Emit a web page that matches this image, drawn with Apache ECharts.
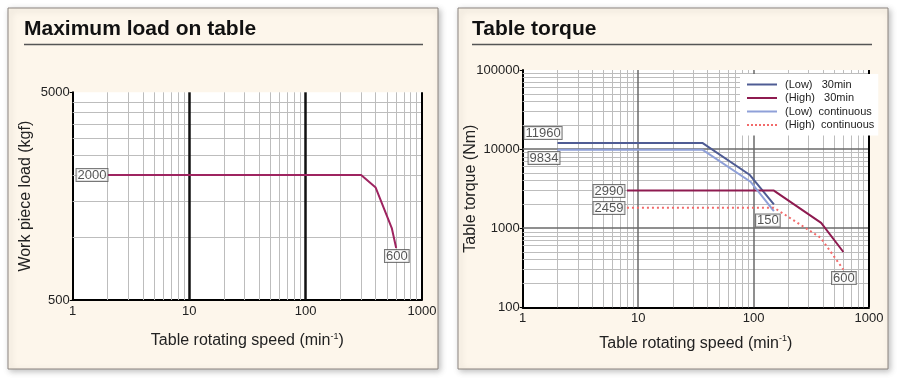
<!DOCTYPE html>
<html>
<head>
<meta charset="utf-8">
<script src="https://cdn.jsdelivr.net/npm/echarts@6/dist/echarts.min.js"></script>
<style>
html,body{margin:0;padding:0;background:#fff;}
#c{width:900px;height:380px;}
</style>
</head>
<body>
<div id="c"></div>
<script>
// ---------- data ----------
var loadSpeed = [2, 300, 400, 550, 600];
var loadValue = [2000, 2000, 1740, 1110, 890];

var low30Speed = [2, 36, 93, 150];
var low30Torque = [11960, 11960, 4700, 2000];
var high30Speed = [8, 150, 385, 600];
var high30Torque = [2990, 2990, 1170, 500];
var lowContSpeed = [2, 36, 94, 150];
var lowContTorque = [9834, 9834, 3870, 1640];
var highContSpeed = [8, 150, 380, 600];
var highContTorque = [1820, 1820, 760, 300];

var seriesNames = ['(Low)   30min', '(High)   30min', '(Low)  continuous', '(High)  continuous'];

var speedTicks = [1, 10, 100, 1000];
var loadTicks = [500, 5000];
var torqueTicks = [100, 1000, 10000, 100000];

var speedMinorGrid = [2, 3, 4, 5, 6, 7, 8, 9, 20, 30, 40, 50, 60, 70, 80, 90, 200, 300, 400, 500, 600, 700, 800, 900];
var speedMajorGrid = [10, 100];
var speedEdge = [1000];
var loadGrid = [1000, 1500, 2000, 2500, 3000, 3500, 4000, 4500];
var torqueMinorGrid = [200, 300, 400, 500, 600, 700, 800, 900, 2000, 3000, 4000, 5000, 6000, 7000, 8000, 9000, 20000, 30000, 40000, 50000, 60000, 70000, 80000, 90000];
var torqueMajorGrid = [1000, 10000];

// annotation boxes: [speed, value, text]
var loadNotes = [[1.465, 2000, '2000'], [608, 814, '600']];
var torqueNotes = [[1.5, 15990, '11960'], [1.53, 7727, '9834'], [5.59, 2953, '2990'], [5.59, 1800, '2459'], [133, 1251, '150'], [606, 234, '600']];

// ---------- helpers ----------
var FONT = '"Liberation Sans", Arial, Helvetica, sans-serif';
var NARROW = '"Liberation Sans Narrow", "Arial Narrow", "Liberation Sans", sans-serif';
function zip(a, b) { return a.map(function (v, i) { return [v, b[i]]; }); }
function vLines(vals) { return vals.map(function (v) { return { xAxis: v }; }); }
function hLines(vals) { return vals.map(function (v) { return { yAxis: v }; }); }
function plain(v) { return String(v); }
function gridSeries(xi, data, color, width, z) {
  return {
    type: 'line', xAxisIndex: xi, yAxisIndex: xi, data: [], silent: true, z: z,
    markLine: {
      z: z, silent: true, symbol: ['none', 'none'], animation: false,
      label: { show: false },
      lineStyle: { color: color, width: width, type: 'solid' },
      emphasis: { disabled: true },
      data: data
    }
  };
}
function noteSeries(xi, notes) {
  return {
    type: 'scatter', xAxisIndex: xi, yAxisIndex: xi, data: notes, symbolSize: 1, z: 10,
    itemStyle: { color: 'rgba(0,0,0,0)' }, silent: true,
    label: {
      show: true, position: 'inside',
      formatter: function (p) { return p.data[2]; },
      fontFamily: FONT, fontSize: 13, color: '#2a2a2a', lineHeight: 12,
      backgroundColor: '#fff', borderColor: '#555', borderWidth: 1, padding: [0, 1, 0, 1]
    }
  };
}
var axisLabelStyle = { fontFamily: FONT, fontSize: 13, color: '#222', formatter: plain };
var nameStyle = {
  fontFamily: FONT, fontSize: 16, color: '#222',
  rich: { sup: { fontFamily: FONT, fontSize: 9, color: '#222', padding: [0, 0, 9, 0] } }
};
var xName = 'Table rotating speed (min{sup|-1})';
var solidIcon = 'path://M0,0h30v2h-30z';
var dotIcon = 'path://M0,0h2v2h-2zM4,0h2v2h-2zM8,0h2v2h-2zM12,0h2v2h-2zM16,0h2v2h-2zM20,0h2v2h-2zM24,0h2v2h-2zM28,0h2v2h-2z';

var chart = echarts.init(document.getElementById('c'), null, { renderer: 'canvas' });
var option = {
  animation: false,
  backgroundColor: '#fff',
  graphic: [
    { type: 'rect', z: -10, shape: { x: 8, y: 8, width: 430, height: 361 },
      style: { fill: '#fdf6eb', stroke: '#8c8580', lineWidth: 1, shadowBlur: 6, shadowColor: 'rgba(0,0,0,0.25)', shadowOffsetX: 2, shadowOffsetY: 2 } },
    { type: 'rect', z: -10, shape: { x: 458, y: 8, width: 430, height: 361 },
      style: { fill: '#fdf6eb', stroke: '#8c8580', lineWidth: 1, shadowBlur: 6, shadowColor: 'rgba(0,0,0,0.25)', shadowOffsetX: 2, shadowOffsetY: 2 } },
    { type: 'text', left: 24, top: 19, style: { text: 'Maximum load on table', font: 'bold 21px ' + FONT, fill: '#111' } },
    { type: 'text', left: 472, top: 19, style: { text: 'Table torque', font: 'bold 21px ' + FONT, fill: '#111' } },
    { type: 'line', shape: { x1: 24, y1: 44.5, x2: 423, y2: 44.5 }, style: { stroke: '#555', lineWidth: 1.5 } },
    { type: 'line', shape: { x1: 472, y1: 44.5, x2: 872, y2: 44.5 }, style: { stroke: '#555', lineWidth: 1.5 } }
  ],
  legend: {
    z: 20,
    data: [
      { name: seriesNames[0], icon: solidIcon },
      { name: seriesNames[1], icon: solidIcon },
      { name: seriesNames[2], icon: solidIcon },
      { name: seriesNames[3], icon: dotIcon }
    ],
    orient: 'vertical', left: 740, top: 74,
    backgroundColor: '#fff', padding: [5, 4, 5, 7],
    itemWidth: 30, itemHeight: 14, itemGap: 2.5,
    textStyle: { fontFamily: NARROW, fontSize: 11, color: '#222', padding: [0, 0, 0, 3] },
    selectedMode: false
  },
  grid: [
    { left: 72.7, right: 478, top: 92.3, bottom: 80, show: true, backgroundColor: '#fff', borderWidth: 0 },
    { left: 522.7, right: 31, top: 70, bottom: 72.7, show: true, backgroundColor: '#fff', borderWidth: 0 }
  ],
  xAxis: [
    { type: 'log', logBase: 10, gridIndex: 0, min: 1, max: 1000,
      axisLine: { lineStyle: { color: '#000', width: 2 } },
      axisTick: { show: false }, splitLine: { show: false },
      axisLabel: Object.assign({ margin: 5, customValues: speedTicks }, axisLabelStyle),
      name: xName, nameLocation: 'middle', nameGap: 32, nameTextStyle: nameStyle },
    { type: 'log', logBase: 10, gridIndex: 1, min: 1, max: 1000,
      axisLine: { lineStyle: { color: '#000', width: 2 } },
      axisTick: { show: false }, splitLine: { show: false },
      axisLabel: Object.assign({ margin: 5, customValues: speedTicks }, axisLabelStyle),
      name: xName, nameLocation: 'middle', nameGap: 27, nameTextStyle: nameStyle }
  ],
  yAxis: [
    { type: 'log', logBase: 10, gridIndex: 0, min: 500, max: 5000,
      axisLine: { show: true, lineStyle: { color: '#000', width: 2 } },
      axisTick: { show: true, length: 3, customValues: loadTicks, lineStyle: { color: '#000' } },
      splitLine: { show: false },
      axisLabel: Object.assign({ margin: 3, customValues: loadTicks }, axisLabelStyle),
      name: 'Work piece load (kgf)', nameLocation: 'middle', nameGap: 39, nameMoveOverlap: false, nameTextStyle: nameStyle },
    { type: 'log', logBase: 10, gridIndex: 1, min: 100, max: 100000,
      axisLine: { show: true, lineStyle: { color: '#000', width: 2 } },
      axisTick: { show: true, length: 3, customValues: torqueTicks, lineStyle: { color: '#000' } },
      splitLine: { show: false },
      axisLabel: Object.assign({ margin: 3, customValues: torqueTicks }, axisLabelStyle),
      name: 'Table torque (Nm)', nameLocation: 'middle', nameGap: 44, nameMoveOverlap: false, nameTextStyle: nameStyle }
  ],
  series: [
    // left grid lines
    gridSeries(0, vLines(speedMinorGrid).concat(hLines(loadGrid)), '#bdbdbd', 1, 1),
    gridSeries(0, vLines(speedMajorGrid), '#111', 2.5, 2),
    gridSeries(0, vLines(speedEdge), '#000', 2, 2),
    // right grid lines
    gridSeries(1, vLines(speedMinorGrid).concat(hLines(torqueMinorGrid)), '#bdbdbd', 1, 1),
    gridSeries(1, vLines(speedMajorGrid).concat(hLines(torqueMajorGrid)), '#6a6a6a', 1.5, 2),
    gridSeries(1, vLines(speedEdge), '#000', 2, 2),
    // data lines
    { name: 'load', type: 'line', xAxisIndex: 0, yAxisIndex: 0, data: zip(loadSpeed, loadValue),
      symbol: 'none', z: 5, lineStyle: { color: '#9e2460', width: 2 }, itemStyle: { color: '#9e2460' } },
    { name: seriesNames[0], type: 'line', xAxisIndex: 1, yAxisIndex: 1, data: zip(low30Speed, low30Torque),
      symbol: 'none', z: 5, lineStyle: { color: '#4f5c94', width: 2 }, itemStyle: { color: '#4f5c94' } },
    { name: seriesNames[1], type: 'line', xAxisIndex: 1, yAxisIndex: 1, data: zip(high30Speed, high30Torque),
      symbol: 'none', z: 5, lineStyle: { color: '#8e1b50', width: 2 }, itemStyle: { color: '#8e1b50' } },
    { name: seriesNames[2], type: 'line', xAxisIndex: 1, yAxisIndex: 1, data: zip(lowContSpeed, lowContTorque),
      symbol: 'none', z: 5, lineStyle: { color: '#8fa0d8', width: 2 }, itemStyle: { color: '#8fa0d8' } },
    { name: seriesNames[3], type: 'line', xAxisIndex: 1, yAxisIndex: 1, data: zip(highContSpeed, highContTorque),
      symbol: 'none', z: 5, lineStyle: { color: '#f26a6a', width: 2, type: [2, 3] }, itemStyle: { color: '#f26a6a' } },
    noteSeries(0, loadNotes),
    noteSeries(1, torqueNotes)
  ]
};
chart.setOption(option);
</script>
</body>
</html>
